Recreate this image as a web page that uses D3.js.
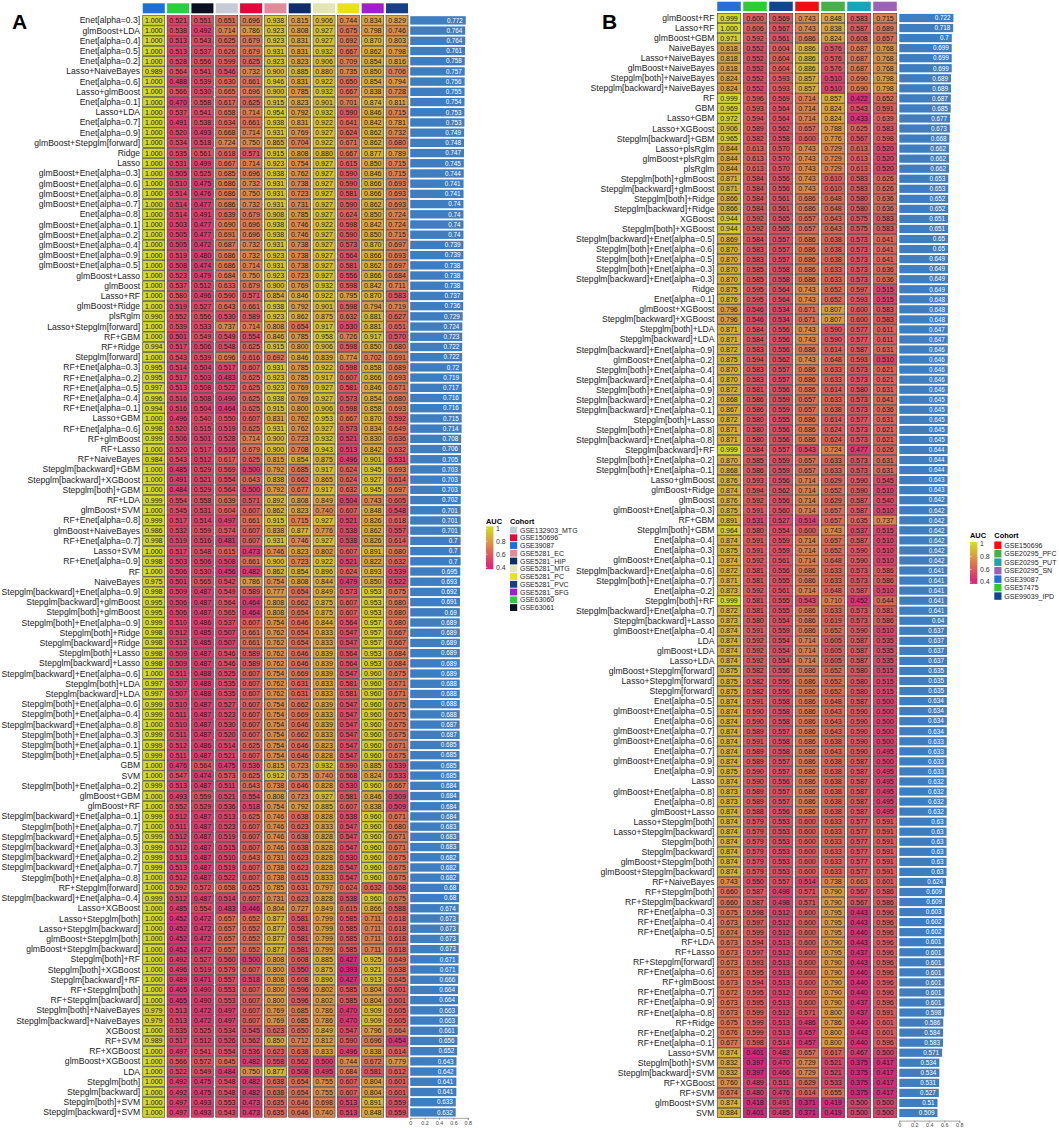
<!DOCTYPE html>
<html>
<head>
<meta charset="utf-8">
<script src="https://cdn.jsdelivr.net/npm/d3@7"></script>
<style>
  body { margin: 0; background: #fff; }
  svg { display: block; font-family: "Liberation Sans", Arial, sans-serif; }
</style>
</head>
<body>
<div id="chart"></div>
<script>
// ---- Panel A data ----
const cohortsA = ['GSE39087','GSE63060','GSE63061','GSE132903_MTG','GSE150696','GSE5281_EC','GSE5281_HIP','GSE5281_MTG','GSE5281_PC','GSE5281_SFG','GSE5281_PVC'];
const cohortColorsA = ['#1f6fd6','#2ecc40','#0b0f22','#c6cbd5','#e2083e','#e08a9a','#0b2d6b','#e3e6b2','#e9e21a','#a020d0','#173f88'];
const modelsA = ["Enet[alpha=0.3]","glmBoost+LDA","Enet[alpha=0.4]","Enet[alpha=0.5]","Enet[alpha=0.2]","Lasso+NaiveBayes","Enet[alpha=0.6]","Lasso+glmBoost","Enet[alpha=0.1]","Lasso+LDA","Enet[alpha=0.7]","Enet[alpha=0.9]","glmBoost+Stepglm[forward]","Ridge","Lasso","glmBoost+Enet[alpha=0.3]","glmBoost+Enet[alpha=0.6]","glmBoost+Enet[alpha=0.8]","glmBoost+Enet[alpha=0.7]","Enet[alpha=0.8]","glmBoost+Enet[alpha=0.1]","glmBoost+Enet[alpha=0.2]","glmBoost+Enet[alpha=0.4]","glmBoost+Enet[alpha=0.9]","glmBoost+Enet[alpha=0.5]","glmBoost+Lasso","glmBoost","Lasso+RF","glmBoost+Ridge","plsRglm","Lasso+Stepglm[forward]","RF+GBM","RF+Ridge","Stepglm[forward]","RF+Enet[alpha=0.3]","RF+Enet[alpha=0.2]","RF+Enet[alpha=0.5]","RF+Enet[alpha=0.4]","RF+Enet[alpha=0.1]","Lasso+GBM","RF+Enet[alpha=0.6]","RF+glmBoost","RF+Lasso","RF+NaiveBayes","Stepglm[backward]+GBM","Stepglm[backward]+XGBoost","Stepglm[both]+GBM","RF+LDA","glmBoost+SVM","RF+Enet[alpha=0.8]","glmBoost+NaiveBayes","RF+Enet[alpha=0.7]","Lasso+SVM","RF+Enet[alpha=0.9]","RF","NaiveBayes","Stepglm[backward]+Enet[alpha=0.9]","Stepglm[backward]+glmBoost","Stepglm[both]+glmBoost","Stepglm[both]+Enet[alpha=0.9]","Stepglm[both]+Ridge","Stepglm[backward]+Ridge","Stepglm[both]+Lasso","Stepglm[backward]+Lasso","Stepglm[backward]+Enet[alpha=0.6]","Stepglm[both]+LDA","Stepglm[backward]+LDA","Stepglm[both]+Enet[alpha=0.6]","Stepglm[both]+Enet[alpha=0.4]","Stepglm[backward]+Enet[alpha=0.8]","Stepglm[both]+Enet[alpha=0.3]","Stepglm[both]+Enet[alpha=0.1]","Stepglm[both]+Enet[alpha=0.5]","GBM","SVM","Stepglm[both]+Enet[alpha=0.2]","glmBoost+GBM","glmBoost+RF","Stepglm[backward]+Enet[alpha=0.1]","Stepglm[both]+Enet[alpha=0.7]","Stepglm[backward]+Enet[alpha=0.5]","Stepglm[backward]+Enet[alpha=0.3]","Stepglm[backward]+Enet[alpha=0.2]","Stepglm[backward]+Enet[alpha=0.7]","Stepglm[both]+Enet[alpha=0.8]","RF+Stepglm[forward]","Stepglm[backward]+Enet[alpha=0.4]","Lasso+XGBoost","Lasso+Stepglm[both]","Lasso+Stepglm[backward]","glmBoost+Stepglm[both]","glmBoost+Stepglm[backward]","Stepglm[both]+RF","Stepglm[both]+XGBoost","Stepglm[backward]+RF","RF+Stepglm[both]","RF+Stepglm[backward]","Stepglm[both]+NaiveBayes","Stepglm[backward]+NaiveBayes","XGBoost","RF+SVM","RF+XGBoost","glmBoost+XGBoost","LDA","Stepglm[both]","Stepglm[backward]","Stepglm[both]+SVM","Stepglm[backward]+SVM"];
const aucA = [
[1.000,0.521,0.551,0.651,0.696,0.938,0.815,0.906,0.744,0.834,0.829],
[1.000,0.538,0.492,0.714,0.786,0.923,0.808,0.927,0.675,0.798,0.746],
[1.000,0.513,0.543,0.625,0.679,0.923,0.831,0.927,0.692,0.870,0.803],
[1.000,0.513,0.537,0.626,0.679,0.931,0.831,0.932,0.667,0.862,0.798],
[1.000,0.528,0.556,0.599,0.625,0.923,0.823,0.906,0.709,0.854,0.816],
[0.989,0.564,0.541,0.546,0.732,0.900,0.885,0.880,0.735,0.850,0.706],
[1.000,0.488,0.539,0.630,0.661,0.946,0.831,0.922,0.650,0.854,0.794],
[1.000,0.566,0.530,0.665,0.696,0.900,0.785,0.932,0.667,0.838,0.728],
[1.000,0.470,0.558,0.617,0.625,0.915,0.823,0.901,0.701,0.874,0.811],
[1.000,0.537,0.541,0.658,0.714,0.954,0.792,0.932,0.590,0.846,0.715],
[1.000,0.491,0.538,0.634,0.661,0.938,0.831,0.922,0.641,0.842,0.781],
[1.000,0.520,0.493,0.668,0.714,0.931,0.769,0.927,0.624,0.862,0.732],
[1.000,0.534,0.518,0.724,0.750,0.865,0.704,0.922,0.671,0.862,0.680],
[1.000,0.535,0.561,0.618,0.571,0.915,0.808,0.880,0.667,0.877,0.789],
[1.000,0.531,0.499,0.667,0.714,0.923,0.754,0.927,0.615,0.850,0.715],
[1.000,0.505,0.525,0.685,0.696,0.938,0.762,0.927,0.590,0.846,0.715],
[1.000,0.510,0.475,0.686,0.732,0.931,0.738,0.927,0.590,0.866,0.693],
[1.000,0.514,0.476,0.686,0.750,0.931,0.723,0.927,0.581,0.866,0.693],
[1.000,0.514,0.477,0.686,0.732,0.931,0.731,0.927,0.590,0.862,0.693],
[1.000,0.514,0.491,0.639,0.679,0.908,0.785,0.927,0.624,0.850,0.724],
[1.000,0.503,0.477,0.690,0.696,0.938,0.746,0.922,0.598,0.842,0.724],
[1.000,0.505,0.477,0.691,0.696,0.938,0.746,0.927,0.590,0.850,0.715],
[1.000,0.505,0.472,0.687,0.732,0.931,0.738,0.927,0.573,0.870,0.697],
[1.000,0.519,0.480,0.686,0.732,0.923,0.738,0.927,0.564,0.866,0.693],
[1.000,0.508,0.474,0.686,0.714,0.931,0.738,0.927,0.581,0.862,0.697],
[1.000,0.523,0.479,0.684,0.750,0.923,0.723,0.927,0.556,0.866,0.684],
[1.000,0.537,0.512,0.633,0.679,0.900,0.769,0.932,0.598,0.842,0.711],
[1.000,0.580,0.496,0.590,0.571,0.854,0.846,0.922,0.795,0.870,0.583],
[1.000,0.519,0.527,0.643,0.661,0.938,0.792,0.901,0.598,0.794,0.719],
[0.990,0.552,0.556,0.530,0.589,0.923,0.862,0.875,0.632,0.881,0.627],
[1.000,0.539,0.533,0.737,0.714,0.808,0.654,0.917,0.530,0.881,0.651],
[1.000,0.501,0.549,0.549,0.554,0.846,0.785,0.958,0.726,0.917,0.570],
[0.994,0.517,0.506,0.548,0.625,0.915,0.800,0.906,0.598,0.850,0.680],
[1.000,0.543,0.539,0.696,0.616,0.692,0.846,0.839,0.774,0.702,0.691],
[0.995,0.514,0.504,0.517,0.607,0.931,0.785,0.922,0.598,0.858,0.689],
[0.995,0.517,0.503,0.483,0.625,0.923,0.785,0.917,0.607,0.866,0.693],
[0.997,0.513,0.508,0.522,0.625,0.923,0.769,0.927,0.581,0.846,0.671],
[0.996,0.516,0.508,0.490,0.625,0.938,0.769,0.927,0.573,0.854,0.680],
[0.994,0.516,0.504,0.464,0.625,0.915,0.800,0.906,0.598,0.858,0.693],
[1.000,0.496,0.540,0.550,0.607,0.831,0.762,0.953,0.667,0.870,0.592],
[0.998,0.520,0.515,0.519,0.625,0.931,0.762,0.927,0.573,0.834,0.649],
[0.999,0.506,0.501,0.528,0.714,0.900,0.723,0.932,0.521,0.830,0.636],
[1.000,0.520,0.517,0.516,0.679,0.900,0.708,0.943,0.513,0.842,0.632],
[0.984,0.543,0.512,0.617,0.625,0.815,0.854,0.875,0.496,0.901,0.531],
[1.000,0.485,0.529,0.569,0.500,0.792,0.685,0.917,0.624,0.945,0.693],
[1.000,0.491,0.521,0.554,0.643,0.838,0.662,0.865,0.624,0.927,0.614],
[1.000,0.484,0.529,0.564,0.500,0.792,0.677,0.917,0.632,0.945,0.697],
[0.999,0.554,0.558,0.639,0.571,0.892,0.808,0.849,0.504,0.743,0.605],
[1.000,0.545,0.531,0.604,0.607,0.862,0.823,0.740,0.607,0.848,0.548],
[0.999,0.517,0.514,0.497,0.661,0.915,0.715,0.927,0.521,0.826,0.618],
[0.986,0.532,0.559,0.574,0.607,0.838,0.877,0.776,0.538,0.862,0.557],
[0.998,0.519,0.516,0.481,0.607,0.931,0.746,0.927,0.538,0.826,0.614],
[1.000,0.517,0.548,0.615,0.473,0.746,0.823,0.802,0.607,0.891,0.680],
[0.998,0.503,0.506,0.508,0.661,0.900,0.723,0.922,0.521,0.822,0.632],
[1.000,0.506,0.530,0.456,0.482,0.862,0.854,0.896,0.624,0.893,0.539],
[0.975,0.501,0.565,0.542,0.786,0.754,0.808,0.844,0.479,0.850,0.522],
[0.998,0.509,0.487,0.549,0.589,0.777,0.654,0.849,0.573,0.953,0.675],
[0.995,0.506,0.487,0.564,0.464,0.808,0.662,0.875,0.607,0.953,0.680],
[0.995,0.506,0.487,0.565,0.464,0.808,0.654,0.875,0.607,0.953,0.680],
[0.999,0.510,0.486,0.537,0.607,0.754,0.646,0.844,0.564,0.957,0.680],
[0.998,0.512,0.485,0.507,0.661,0.762,0.654,0.833,0.547,0.957,0.667],
[0.998,0.512,0.485,0.507,0.661,0.762,0.654,0.833,0.547,0.957,0.667],
[0.998,0.509,0.487,0.546,0.589,0.762,0.646,0.839,0.564,0.953,0.684],
[0.998,0.509,0.487,0.546,0.589,0.762,0.646,0.839,0.564,0.953,0.684],
[1.000,0.511,0.488,0.525,0.607,0.754,0.669,0.839,0.547,0.960,0.675],
[0.997,0.507,0.488,0.535,0.607,0.762,0.631,0.833,0.581,0.960,0.671],
[0.997,0.507,0.488,0.535,0.607,0.762,0.631,0.833,0.581,0.960,0.671],
[0.999,0.510,0.487,0.527,0.607,0.754,0.662,0.839,0.547,0.960,0.675],
[0.999,0.511,0.487,0.523,0.607,0.754,0.669,0.833,0.547,0.960,0.675],
[1.000,0.510,0.487,0.530,0.607,0.754,0.646,0.839,0.547,0.960,0.675],
[0.999,0.511,0.487,0.520,0.607,0.754,0.662,0.833,0.547,0.960,0.675],
[0.999,0.512,0.486,0.514,0.625,0.754,0.646,0.823,0.547,0.960,0.671],
[0.999,0.511,0.487,0.521,0.607,0.754,0.646,0.828,0.547,0.960,0.675],
[1.000,0.476,0.564,0.475,0.536,0.815,0.723,0.932,0.590,0.885,0.539],
[1.000,0.547,0.474,0.573,0.625,0.912,0.735,0.740,0.568,0.824,0.533],
[0.999,0.513,0.487,0.511,0.643,0.738,0.646,0.828,0.530,0.960,0.667],
[1.000,0.493,0.559,0.521,0.554,0.808,0.723,0.927,0.581,0.846,0.509],
[1.000,0.552,0.529,0.536,0.518,0.754,0.792,0.885,0.607,0.838,0.509],
[0.999,0.512,0.487,0.513,0.625,0.746,0.638,0.828,0.538,0.960,0.671],
[1.000,0.511,0.487,0.523,0.607,0.746,0.623,0.833,0.547,0.960,0.680],
[0.999,0.512,0.487,0.519,0.607,0.746,0.638,0.828,0.547,0.960,0.671],
[0.999,0.512,0.487,0.515,0.607,0.746,0.638,0.828,0.547,0.960,0.671],
[0.999,0.513,0.487,0.510,0.643,0.731,0.623,0.828,0.530,0.960,0.675],
[0.999,0.513,0.487,0.519,0.607,0.738,0.623,0.828,0.547,0.960,0.675],
[1.000,0.512,0.487,0.522,0.607,0.738,0.615,0.833,0.547,0.960,0.675],
[1.000,0.592,0.572,0.658,0.625,0.785,0.631,0.797,0.624,0.632,0.568],
[0.999,0.512,0.487,0.514,0.607,0.731,0.623,0.828,0.538,0.960,0.675],
[1.000,0.485,0.554,0.483,0.446,0.804,0.727,0.849,0.615,0.866,0.588],
[1.000,0.452,0.472,0.657,0.652,0.877,0.581,0.799,0.585,0.711,0.618],
[1.000,0.452,0.472,0.657,0.652,0.877,0.581,0.799,0.585,0.711,0.618],
[1.000,0.452,0.472,0.657,0.652,0.877,0.581,0.799,0.585,0.711,0.618],
[1.000,0.452,0.472,0.657,0.652,0.877,0.581,0.799,0.585,0.711,0.618],
[1.000,0.492,0.527,0.560,0.500,0.808,0.608,0.885,0.427,0.925,0.649],
[1.000,0.496,0.519,0.579,0.607,0.800,0.550,0.875,0.393,0.921,0.638],
[1.000,0.489,0.471,0.557,0.518,0.808,0.608,0.896,0.427,0.913,0.645],
[1.000,0.465,0.490,0.553,0.607,0.800,0.596,0.802,0.585,0.804,0.601],
[1.000,0.465,0.490,0.553,0.607,0.800,0.596,0.802,0.585,0.804,0.601],
[0.979,0.513,0.472,0.497,0.607,0.769,0.685,0.786,0.470,0.909,0.605],
[0.979,0.513,0.472,0.497,0.607,0.769,0.685,0.786,0.470,0.909,0.605],
[1.000,0.535,0.525,0.534,0.545,0.623,0.650,0.849,0.547,0.796,0.664],
[0.989,0.517,0.512,0.526,0.562,0.850,0.712,0.812,0.590,0.696,0.454],
[1.000,0.497,0.541,0.554,0.536,0.623,0.638,0.833,0.496,0.838,0.614],
[1.000,0.566,0.572,0.645,0.482,0.558,0.562,0.500,0.744,0.672,0.779],
[1.000,0.522,0.549,0.484,0.750,0.877,0.508,0.495,0.684,0.581,0.612],
[1.000,0.492,0.475,0.548,0.482,0.638,0.654,0.755,0.607,0.804,0.601],
[1.000,0.492,0.475,0.548,0.482,0.638,0.654,0.755,0.607,0.804,0.601],
[1.000,0.497,0.493,0.553,0.473,0.635,0.646,0.698,0.513,0.891,0.559],
[1.000,0.497,0.493,0.543,0.473,0.635,0.646,0.740,0.513,0.848,0.559]
];
const meanA = [0.772,0.764,0.764,0.761,0.758,0.757,0.756,0.755,0.754,0.753,0.753,0.749,0.748,0.747,0.745,0.744,0.741,0.741,0.74,0.74,0.74,0.74,0.739,0.739,0.738,0.738,0.738,0.737,0.736,0.729,0.724,0.723,0.722,0.722,0.72,0.719,0.717,0.716,0.716,0.715,0.714,0.708,0.706,0.705,0.703,0.703,0.703,0.702,0.701,0.701,0.701,0.7,0.7,0.7,0.695,0.693,0.692,0.691,0.69,0.689,0.689,0.689,0.689,0.689,0.689,0.688,0.688,0.688,0.688,0.687,0.687,0.685,0.685,0.685,0.685,0.684,0.684,0.684,0.684,0.683,0.683,0.683,0.682,0.682,0.682,0.68,0.68,0.674,0.673,0.673,0.673,0.673,0.671,0.671,0.666,0.664,0.664,0.663,0.663,0.661,0.656,0.652,0.643,0.642,0.641,0.641,0.633,0.632];

// ---- Panel B data ----
const cohortsB = ['GSE39087','GSE57475','GSE99039_IPD','GSE150696','GSE20295_PFC','GSE20295_PUT','GSE20295_SN'];
const cohortColorsB = ['#2470d4','#2ecc2e','#0d4690','#ee1010','#46b04a','#17a3ba','#9b62b8'];
const modelsB = ["glmBoost+RF","Lasso+RF","glmBoost+GBM","NaiveBayes","Lasso+NaiveBayes","glmBoost+NaiveBayes","Stepglm[both]+NaiveBayes","Stepglm[backward]+NaiveBayes","RF","GBM","Lasso+GBM","Lasso+XGBoost","Stepglm[backward]+GBM","Lasso+plsRglm","glmBoost+plsRglm","plsRglm","Stepglm[both]+glmBoost","Stepglm[backward]+glmBoost","Stepglm[both]+Ridge","Stepglm[backward]+Ridge","XGBoost","Stepglm[both]+XGBoost","Stepglm[backward]+Enet[alpha=0.5]","Stepglm[both]+Enet[alpha=0.6]","Stepglm[both]+Enet[alpha=0.5]","Stepglm[both]+Enet[alpha=0.3]","Stepglm[backward]+Enet[alpha=0.3]","Ridge","Enet[alpha=0.1]","glmBoost+XGBoost","Stepglm[backward]+XGBoost","Stepglm[both]+LDA","Stepglm[backward]+LDA","Stepglm[backward]+Enet[alpha=0.9]","glmBoost+Enet[alpha=0.2]","Stepglm[both]+Enet[alpha=0.4]","Stepglm[backward]+Enet[alpha=0.4]","Stepglm[both]+Enet[alpha=0.9]","Stepglm[backward]+Enet[alpha=0.2]","Stepglm[backward]+Enet[alpha=0.1]","Stepglm[both]+Lasso","Stepglm[both]+Enet[alpha=0.8]","Stepglm[backward]+Enet[alpha=0.8]","Stepglm[backward]+RF","Stepglm[both]+Enet[alpha=0.2]","Stepglm[both]+Enet[alpha=0.1]","Lasso+glmBoost","glmBoost+Ridge","glmBoost","glmBoost+Enet[alpha=0.3]","RF+GBM","Stepglm[both]+GBM","Enet[alpha=0.4]","Enet[alpha=0.3]","glmBoost+Enet[alpha=0.1]","Stepglm[backward]+Enet[alpha=0.6]","Stepglm[both]+Enet[alpha=0.7]","Enet[alpha=0.2]","Stepglm[both]+RF","Stepglm[backward]+Enet[alpha=0.7]","Stepglm[backward]+Lasso","glmBoost+Enet[alpha=0.4]","LDA","glmBoost+LDA","Lasso+LDA","glmBoost+Stepglm[forward]","Lasso+Stepglm[forward]","Stepglm[forward]","Enet[alpha=0.5]","glmBoost+Enet[alpha=0.5]","Enet[alpha=0.6]","glmBoost+Enet[alpha=0.7]","glmBoost+Enet[alpha=0.6]","Enet[alpha=0.7]","glmBoost+Enet[alpha=0.9]","Enet[alpha=0.9]","Lasso","glmBoost+Enet[alpha=0.8]","Enet[alpha=0.8]","glmBoost+Lasso","Lasso+Stepglm[both]","Lasso+Stepglm[backward]","Stepglm[both]","Stepglm[backward]","glmBoost+Stepglm[both]","glmBoost+Stepglm[backward]","RF+NaiveBayes","RF+Stepglm[both]","RF+Stepglm[backward]","RF+Enet[alpha=0.3]","RF+Enet[alpha=0.4]","RF+Enet[alpha=0.5]","RF+LDA","RF+Lasso","RF+Stepglm[forward]","RF+Enet[alpha=0.6]","RF+glmBoost","RF+Enet[alpha=0.7]","RF+Enet[alpha=0.9]","RF+Enet[alpha=0.8]","RF+Ridge","RF+Enet[alpha=0.2]","RF+Enet[alpha=0.1]","Lasso+SVM","Stepglm[both]+SVM","Stepglm[backward]+SVM","RF+XGBoost","RF+SVM","glmBoost+SVM","SVM"];
const aucB = [
[0.999,0.600,0.569,0.743,0.848,0.583,0.715],
[1.000,0.606,0.567,0.743,0.838,0.587,0.689],
[0.971,0.592,0.561,0.686,0.824,0.608,0.657],
[0.818,0.552,0.604,0.886,0.576,0.687,0.768],
[0.818,0.552,0.604,0.886,0.576,0.687,0.768],
[0.818,0.552,0.604,0.886,0.576,0.687,0.768],
[0.824,0.552,0.593,0.857,0.510,0.690,0.798],
[0.824,0.552,0.593,0.857,0.510,0.690,0.798],
[0.999,0.596,0.569,0.714,0.857,0.422,0.652],
[0.969,0.593,0.564,0.714,0.824,0.543,0.591],
[0.972,0.594,0.564,0.714,0.824,0.433,0.639],
[0.906,0.589,0.562,0.657,0.788,0.625,0.583],
[0.965,0.582,0.558,0.600,0.776,0.567,0.598],
[0.844,0.613,0.570,0.743,0.729,0.613,0.520],
[0.844,0.613,0.570,0.743,0.729,0.613,0.520],
[0.844,0.613,0.570,0.743,0.729,0.613,0.520],
[0.871,0.584,0.556,0.743,0.610,0.583,0.626],
[0.871,0.584,0.556,0.743,0.610,0.583,0.626],
[0.866,0.584,0.561,0.686,0.648,0.580,0.636],
[0.866,0.584,0.561,0.686,0.648,0.580,0.636],
[0.944,0.592,0.565,0.657,0.643,0.575,0.583],
[0.944,0.592,0.565,0.657,0.643,0.575,0.583],
[0.869,0.584,0.557,0.686,0.638,0.573,0.641],
[0.870,0.583,0.557,0.686,0.638,0.573,0.641],
[0.870,0.583,0.557,0.686,0.638,0.573,0.641],
[0.870,0.585,0.558,0.686,0.633,0.573,0.636],
[0.870,0.585,0.558,0.686,0.633,0.573,0.636],
[0.875,0.595,0.564,0.743,0.652,0.597,0.515],
[0.876,0.595,0.564,0.743,0.652,0.593,0.515],
[0.796,0.546,0.534,0.671,0.807,0.600,0.583],
[0.796,0.546,0.534,0.671,0.807,0.600,0.583],
[0.871,0.584,0.556,0.743,0.590,0.577,0.611],
[0.871,0.584,0.556,0.743,0.590,0.577,0.611],
[0.872,0.583,0.556,0.686,0.614,0.587,0.631],
[0.875,0.594,0.562,0.743,0.648,0.593,0.510],
[0.870,0.583,0.557,0.686,0.633,0.573,0.621],
[0.870,0.583,0.557,0.686,0.633,0.573,0.621],
[0.872,0.581,0.556,0.686,0.614,0.580,0.631],
[0.868,0.586,0.559,0.657,0.633,0.573,0.641],
[0.867,0.586,0.559,0.657,0.638,0.573,0.636],
[0.872,0.580,0.555,0.686,0.614,0.577,0.631],
[0.871,0.580,0.556,0.686,0.624,0.573,0.621],
[0.871,0.580,0.556,0.686,0.624,0.573,0.621],
[0.999,0.584,0.557,0.543,0.724,0.477,0.626],
[0.870,0.585,0.559,0.657,0.633,0.573,0.631],
[0.868,0.586,0.559,0.657,0.633,0.573,0.631],
[0.876,0.593,0.556,0.714,0.629,0.590,0.545],
[0.874,0.594,0.562,0.714,0.652,0.590,0.510],
[0.876,0.592,0.556,0.714,0.629,0.587,0.540],
[0.875,0.591,0.560,0.714,0.657,0.587,0.510],
[0.891,0.531,0.527,0.514,0.657,0.635,0.737],
[0.964,0.580,0.554,0.600,0.743,0.537,0.515],
[0.874,0.591,0.559,0.714,0.657,0.587,0.510],
[0.875,0.591,0.559,0.714,0.652,0.590,0.510],
[0.874,0.592,0.561,0.714,0.648,0.590,0.510],
[0.872,0.581,0.556,0.686,0.633,0.573,0.586],
[0.871,0.581,0.555,0.686,0.633,0.573,0.586],
[0.873,0.592,0.561,0.714,0.648,0.587,0.510],
[0.999,0.581,0.555,0.543,0.710,0.452,0.644],
[0.872,0.581,0.555,0.686,0.633,0.573,0.581],
[0.873,0.580,0.554,0.686,0.619,0.573,0.586],
[0.874,0.591,0.559,0.686,0.652,0.590,0.510],
[0.874,0.592,0.554,0.714,0.605,0.587,0.535],
[0.874,0.592,0.554,0.714,0.605,0.587,0.535],
[0.874,0.592,0.554,0.714,0.605,0.587,0.535],
[0.875,0.582,0.556,0.686,0.652,0.580,0.515],
[0.875,0.582,0.556,0.686,0.652,0.580,0.515],
[0.875,0.582,0.556,0.686,0.652,0.580,0.515],
[0.874,0.591,0.558,0.686,0.648,0.587,0.500],
[0.874,0.590,0.558,0.686,0.643,0.590,0.500],
[0.874,0.590,0.558,0.686,0.643,0.590,0.500],
[0.874,0.589,0.557,0.686,0.643,0.590,0.500],
[0.874,0.591,0.558,0.686,0.638,0.590,0.500],
[0.874,0.589,0.558,0.686,0.643,0.590,0.495],
[0.874,0.589,0.557,0.686,0.638,0.587,0.500],
[0.875,0.590,0.557,0.686,0.638,0.587,0.495],
[0.874,0.590,0.556,0.686,0.638,0.587,0.495],
[0.873,0.589,0.557,0.686,0.638,0.587,0.495],
[0.873,0.589,0.557,0.686,0.638,0.587,0.495],
[0.874,0.588,0.556,0.686,0.638,0.587,0.495],
[0.874,0.579,0.553,0.600,0.633,0.577,0.591],
[0.874,0.579,0.553,0.600,0.633,0.577,0.591],
[0.874,0.579,0.553,0.600,0.633,0.577,0.591],
[0.874,0.579,0.553,0.600,0.633,0.577,0.591],
[0.874,0.579,0.553,0.600,0.633,0.577,0.591],
[0.874,0.579,0.553,0.600,0.633,0.577,0.591],
[0.743,0.550,0.557,0.514,0.738,0.663,0.601],
[0.660,0.587,0.498,0.571,0.790,0.567,0.586],
[0.660,0.587,0.498,0.571,0.790,0.567,0.586],
[0.675,0.598,0.512,0.600,0.795,0.443,0.596],
[0.673,0.597,0.512,0.600,0.795,0.443,0.596],
[0.674,0.599,0.512,0.600,0.795,0.440,0.596],
[0.673,0.594,0.513,0.600,0.790,0.443,0.596],
[0.673,0.597,0.512,0.600,0.795,0.437,0.596],
[0.673,0.593,0.513,0.600,0.790,0.443,0.596],
[0.673,0.595,0.513,0.600,0.790,0.440,0.596],
[0.673,0.594,0.513,0.600,0.790,0.440,0.596],
[0.672,0.595,0.512,0.600,0.790,0.440,0.596],
[0.673,0.595,0.513,0.600,0.790,0.437,0.596],
[0.673,0.599,0.512,0.571,0.800,0.437,0.591],
[0.675,0.599,0.513,0.486,0.786,0.440,0.601],
[0.676,0.599,0.513,0.457,0.800,0.443,0.601],
[0.677,0.598,0.514,0.457,0.800,0.440,0.596],
[0.874,0.401,0.482,0.657,0.617,0.467,0.500],
[0.832,0.397,0.470,0.729,0.521,0.375,0.417],
[0.832,0.397,0.466,0.729,0.521,0.375,0.417],
[0.760,0.489,0.511,0.629,0.533,0.375,0.417],
[0.674,0.480,0.476,0.614,0.655,0.375,0.417],
[0.874,0.418,0.491,0.371,0.419,0.500,0.500],
[0.884,0.401,0.485,0.371,0.419,0.500,0.500]
];
const meanB = [0.722,0.718,0.7,0.699,0.699,0.699,0.689,0.689,0.687,0.685,0.677,0.673,0.668,0.662,0.662,0.662,0.653,0.653,0.652,0.652,0.651,0.651,0.65,0.65,0.649,0.649,0.649,0.649,0.648,0.648,0.648,0.647,0.647,0.646,0.646,0.646,0.646,0.646,0.645,0.645,0.645,0.645,0.645,0.644,0.644,0.644,0.643,0.643,0.642,0.642,0.642,0.642,0.642,0.642,0.642,0.641,0.641,0.641,0.641,0.641,0.64,0.637,0.637,0.637,0.637,0.635,0.635,0.635,0.634,0.634,0.634,0.634,0.633,0.633,0.633,0.633,0.632,0.632,0.632,0.632,0.63,0.63,0.63,0.63,0.63,0.63,0.624,0.609,0.609,0.603,0.602,0.602,0.601,0.601,0.601,0.601,0.601,0.601,0.601,0.598,0.586,0.584,0.583,0.571,0.534,0.534,0.531,0.527,0.51,0.509];

const legendTicks = [1, 0.8, 0.6, 0.4];

// ---- drawing ----
const width = 1059, height = 1128;
const svg = d3.select('#chart').append('svg')
  .attr('width', width).attr('height', height);

// AUC colour scale shared by both heatmaps
const color = d3.scaleLinear()
  .domain([0.4, 0.6, 0.8, 1.0])
  .range(['#d6267c', '#dc5a5c', '#d99a42', '#d2d826'])
  .clamp(true);

function panel(cfg) {
  const g = svg.append('g');
  const idx = d3.range(cfg.models.length);

  const y = d3.scaleBand().domain(idx).range(cfg.yRange).paddingInner(0.06);
  const x = d3.scaleBand().domain(cfg.cohorts).range(cfg.xRange)
    .paddingInner(0.095).paddingOuter(0.0475);
  const xb = d3.scaleLinear().domain([0, 0.8]).range(cfg.barRange);

  // header colour strip
  g.selectAll('rect.head').data(cfg.cohorts).enter().append('rect')
    .attr('class', 'head')
    .attr('x', d => x(d)).attr('width', x.bandwidth())
    .attr('y', cfg.headY).attr('height', cfg.headH)
    .attr('fill', (d, i) => cfg.colors[i]);

  // row labels
  g.selectAll('text.lab').data(idx).enter().append('text')
    .attr('class', 'lab')
    .attr('x', cfg.xRange[0] - 1.5)
    .attr('y', i => y(i) + y.bandwidth() / 2)
    .attr('dy', '0.35em')
    .attr('text-anchor', 'end')
    .attr('font-size', '8.6px').attr('fill', '#222')
    .text(i => cfg.models[i]);

  // cells
  const cells = [];
  cfg.auc.forEach((row, i) => row.forEach((v, j) => cells.push({ i, c: cfg.cohorts[j], v })));
  g.selectAll('rect.cell').data(cells).enter().append('rect')
    .attr('class', 'cell')
    .attr('x', d => x(d.c)).attr('width', x.bandwidth())
    .attr('y', d => y(d.i)).attr('height', y.bandwidth())
    .attr('fill', d => color(d.v))
    .attr('stroke', '#3a3a3a').attr('stroke-width', 0.6);
  g.selectAll('text.cell').data(cells).enter().append('text')
    .attr('class', 'cell')
    .attr('x', d => x(d.c) + x.bandwidth() / 2)
    .attr('y', d => y(d.i) + y.bandwidth() / 2)
    .attr('dy', '0.36em')
    .attr('text-anchor', 'middle')
    .attr('font-size', '7px').attr('fill', '#1a1a1a')
    .text(d => d.v.toFixed(3));

  // mean AUC bars
  g.selectAll('rect.bar').data(idx).enter().append('rect')
    .attr('class', 'bar')
    .attr('x', xb(0)).attr('width', i => xb(cfg.mean[i]) - xb(0))
    .attr('y', i => y(i) + 0.6).attr('height', y.bandwidth() - 1.2)
    .attr('fill', '#3e7ec0');
  g.selectAll('text.bar').data(idx).enter().append('text')
    .attr('class', 'bar')
    .attr('x', i => xb(cfg.mean[i]) - 3)
    .attr('y', i => y(i) + y.bandwidth() / 2)
    .attr('dy', '0.36em')
    .attr('text-anchor', 'end')
    .attr('font-size', '6.3px').attr('fill', '#fff')
    .text(i => String(cfg.mean[i]));

  // bar axis
  const ax = g.append('g')
    .attr('transform', `translate(0,${cfg.axisY})`)
    .call(d3.axisBottom(xb).tickValues([0, 0.2, 0.4, 0.6, 0.8]).tickSize(2).tickPadding(1).tickFormat(d3.format('~g')));
  ax.selectAll('text').attr('font-size', '5.4px').attr('fill', '#444').attr('font-family', '"Liberation Sans", Arial, sans-serif');
  ax.selectAll('line,path').attr('stroke', '#666').attr('stroke-width', 0.6);

  // panel letter
  svg.append('text')
    .attr('x', cfg.letterX).attr('y', cfg.letterY)
    .attr('font-size', '21px').attr('font-weight', 'bold').attr('fill', '#000')
    .text(cfg.letter);

  // legend: AUC gradient
  const L = cfg.legend;
  const ly = d3.scaleLinear().domain([1, 0.4]).range([L.top, L.bottom]);
  const gradId = 'grad' + cfg.letter;
  const grad = svg.append('defs').append('linearGradient')
    .attr('id', gradId).attr('x1', 0).attr('x2', 0).attr('y1', 0).attr('y2', 1);
  d3.range(0, 11).forEach(k => {
    const v = 1.03 - k * 0.066;
    grad.append('stop').attr('offset', k / 10).attr('stop-color', color(v));
  });
  svg.append('text').attr('x', L.x).attr('y', L.titleY)
    .attr('font-size', '7.4px').attr('font-weight', 'bold').text('AUC');
  svg.append('rect')
    .attr('x', L.x).attr('width', 7.4)
    .attr('y', ly(1.03)).attr('height', ly(0.37) - ly(1.03))
    .attr('fill', `url(#${gradId})`);
  svg.selectAll('line.lt' + cfg.letter).data(legendTicks).enter().append('line')
    .attr('x1', L.x).attr('x2', L.x + 1.5)
    .attr('y1', d => ly(d)).attr('y2', d => ly(d))
    .attr('stroke', '#fff').attr('stroke-width', 0.6);
  svg.selectAll('text.lt' + cfg.letter).data(legendTicks).enter().append('text')
    .attr('x', L.x + 10).attr('y', d => ly(d)).attr('dy', '0.35em')
    .attr('font-size', '7px').attr('fill', '#333')
    .text(d => d3.format('~g')(d));

  // legend: cohorts
  const sorted = cfg.cohorts.map((c, i) => ({ c, col: cfg.colors[i] }))
    .sort((a, b) => d3.ascending(a.c, b.c));
  svg.append('text').attr('x', L.cx).attr('y', L.titleY)
    .attr('font-size', '7.4px').attr('font-weight', 'bold').text('Cohort');
  const ls = d3.scaleBand().domain(sorted.map(d => d.c))
    .range([L.ctop, L.ctop + sorted.length * L.cstep]).paddingInner(0.12);
  svg.selectAll('rect.sw' + cfg.letter).data(sorted).enter().append('rect')
    .attr('x', L.cx).attr('width', 7.2)
    .attr('y', d => ls(d.c)).attr('height', ls.bandwidth())
    .attr('fill', d => d.col);
  svg.selectAll('text.sw' + cfg.letter).data(sorted).enter().append('text')
    .attr('x', L.cx + 10).attr('y', d => ls(d.c) + ls.bandwidth() / 2).attr('dy', '0.36em')
    .attr('font-size', '7px').attr('fill', '#222')
    .text(d => d.c);
}

panel({
  letter: 'A', letterX: 12, letterY: 29,
  models: modelsA, auc: aucA, mean: meanA, cohorts: cohortsA, colors: cohortColorsA,
  yRange: [15.6, 1117.2], xRange: [141.6, 409.2], barRange: [410.2, 467.8],
  headY: 3.3, headH: 10, axisY: 1117.8,
  legend: { x: 486, titleY: 523.5, top: 528.3, bottom: 567.3, cx: 510, ctop: 526.6, cstep: 7.67 }
});

panel({
  letter: 'B', letterX: 602, letterY: 29,
  models: modelsB, auc: aucB, mean: meanB, cohorts: cohortsB, colors: cohortColorsB,
  yRange: [13.3, 1117.7], xRange: [716, 898], barRange: [899.3, 959.3],
  headY: 1.7, headH: 9.3, axisY: 1120.6,
  legend: { x: 970, titleY: 537.5, top: 544, bottom: 582, cx: 994.3, ctop: 541.5, cstep: 8.33 }
});
</script>
</body>
</html>
